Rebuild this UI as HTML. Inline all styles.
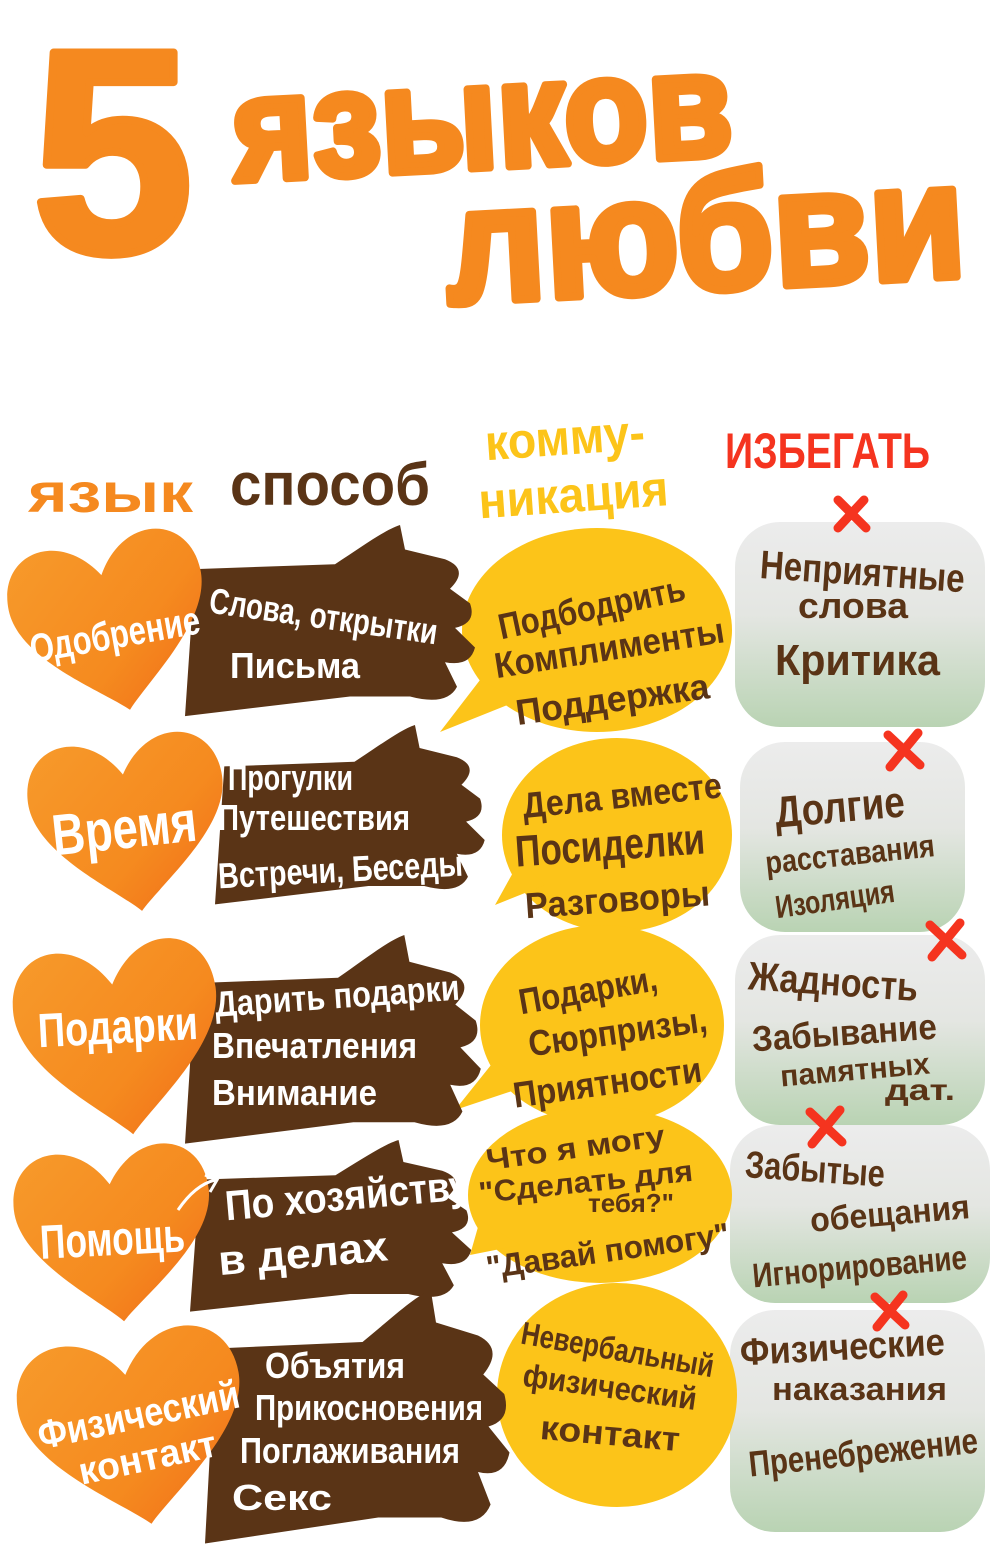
<!DOCTYPE html>
<html><head><meta charset="utf-8"><style>
html,body{margin:0;padding:0;background:#fff;}
svg{display:block;}
text{font-family:"Liberation Sans Narrow","Liberation Sans",sans-serif;font-weight:bold;}
</style></head><body>
<svg width="1000" height="1548" viewBox="0 0 1000 1548" xmlns="http://www.w3.org/2000/svg">
<defs>
<linearGradient id="gr" x1="0" y1="0" x2="0" y2="1">
<stop offset="0" stop-color="#ececec"/><stop offset="0.45" stop-color="#e4e6e2"/><stop offset="1" stop-color="#b9d3b3"/></linearGradient>
<linearGradient id="ht" x1="0" y1="0" x2="1" y2="1">
<stop offset="0" stop-color="#f79a2b"/><stop offset="0.6" stop-color="#f58a1f"/><stop offset="1" stop-color="#f06a18"/></linearGradient>
<path id="heart" d="M0,0.85 C-0.25,0.6 -1,0.15 -1,-0.35 C-1,-0.9 -0.35,-1.05 0,-0.5 C0.35,-1.05 1,-0.9 1,-0.35 C1,0.15 0.25,0.6 0,0.85Z"/>
<path id="hand" d="M10,45 L150,40 C180,20 200,5 215,0 L220,25 L260,35 Q285,45 265,65 L285,80 Q292,100 270,105 L290,125 Q285,145 260,140 L272,165 Q262,185 225,175 L165,175 L0,195 Z"/>
</defs>

<!-- Title -->
<g fill="#f5891f" stroke="#f5891f" stroke-width="8" stroke-linejoin="round">
<text x="32" y="252" font-size="290" style="font-family:'Liberation Sans',sans-serif" font-weight="900">5</text>
<text x="232" y="168" font-size="150" textLength="500" lengthAdjust="spacingAndGlyphs" transform="rotate(-3 480 120)">языков</text>
<text x="445" y="290" font-size="165" textLength="520" lengthAdjust="spacingAndGlyphs" transform="rotate(-3 700 230)">любви</text>
</g>

<!-- Headers -->
<text x="28" y="512" font-size="56" fill="#f5891f" textLength="165" lengthAdjust="spacingAndGlyphs">язык</text>
<text x="230" y="505" font-size="60" fill="#5a3416" textLength="200" lengthAdjust="spacingAndGlyphs">способ</text>
<text x="485" y="455" font-size="50" fill="#fcc419" textLength="160" lengthAdjust="spacingAndGlyphs" transform="rotate(-4 560 440)">комму-</text>
<text x="478" y="512" font-size="50" fill="#fcc419" textLength="190" lengthAdjust="spacingAndGlyphs" transform="rotate(-4 570 490)">никация</text>
<text x="725" y="468" font-size="50" fill="#f5341f" textLength="205" lengthAdjust="spacingAndGlyphs">ИЗБЕГАТЬ</text>

<!-- Grey clouds -->
<g fill="url(#gr)">
<rect x="735" y="522" width="250" height="205" rx="45"/>
<rect x="740" y="742" width="225" height="190" rx="45"/>
<rect x="735" y="935" width="250" height="190" rx="45"/>
<rect x="730" y="1125" width="260" height="178" rx="45"/>
<rect x="730" y="1310" width="255" height="222" rx="45"/>
</g>
<g stroke="#f5341f" stroke-width="9" stroke-linecap="round">
<path d="M838,500 L866,528 M864,500 L838,528"/>
<path d="M888,735 L920,765 M918,733 L890,767"/>
<path d="M930,925 L962,955 M960,923 L932,957"/>
<path d="M810,1112 L842,1142 M840,1110 L812,1144"/>
<path d="M875,1297 L905,1325 M903,1295 L877,1327"/>
</g>

<!-- Yellow bubbles -->
<g fill="#fcc419">
<ellipse cx="597" cy="630" rx="135" ry="102"/><path d="M480,680 L440,732 L520,700Z"/>
<ellipse cx="617" cy="835" rx="115" ry="97"/><path d="M520,860 L495,905 L545,885Z"/>
<ellipse cx="602" cy="1025" rx="122" ry="100"/><path d="M495,1060 L455,1110 L530,1085Z"/>
<ellipse cx="600" cy="1195" rx="132" ry="88"/><path d="M480,1220 L470,1255 L520,1245Z"/>
<ellipse cx="617" cy="1395" rx="120" ry="112"/>
</g>

<!-- Brown hands -->
<g fill="#5a3416">
<use href="#hand" transform="translate(185,525) scale(1,0.98)"/>
<use href="#hand" transform="translate(215,725) scale(0.93,0.92)"/>
<use href="#hand" transform="translate(185,935) scale(1.02,1.07)"/>
<use href="#hand" transform="translate(190,1140) scale(0.97,0.88)"/>
<use href="#hand" transform="translate(205,1290) scale(1.05,1.3)"/>
</g>

<!-- Hearts -->
<g fill="url(#ht)">
<use href="#heart" transform="translate(112,625) rotate(-12) scale(98,102)"/>
<use href="#heart" transform="translate(130,825) rotate(-8) scale(98,102)"/>
<use href="#heart" transform="translate(120,1040) rotate(-8) scale(102,112)"/>
<use href="#heart" transform="translate(115,1235) rotate(-6) scale(98,102)"/>
<use href="#heart" transform="translate(135,1430) rotate(-10) scale(112,112)"/>
</g>

<!-- Heart labels -->
<g fill="#fff">
<text x="28" y="648" font-size="40" textLength="172" lengthAdjust="spacingAndGlyphs" transform="rotate(-10 115 630)">Одобрение</text>
<text x="52" y="848" font-size="58" textLength="145" lengthAdjust="spacingAndGlyphs" transform="rotate(-6 125 830)">Время</text>
<text x="38" y="1043" font-size="48" textLength="160" lengthAdjust="spacingAndGlyphs" transform="rotate(-3 120 1030)">Подарки</text>
<text x="40" y="1255" font-size="48" textLength="145" lengthAdjust="spacingAndGlyphs" transform="rotate(-3 115 1240)">Помощь</text>
<text x="35" y="1428" font-size="40" textLength="205" lengthAdjust="spacingAndGlyphs" transform="rotate(-12 140 1410)">Физический</text>
<text x="78" y="1470" font-size="38" textLength="140" lengthAdjust="spacingAndGlyphs" transform="rotate(-12 150 1460)">контакт</text>
</g>

<!-- Hand labels -->
<g fill="#fff" font-size="36">
<text x="208" y="628" textLength="230" lengthAdjust="spacingAndGlyphs" transform="rotate(8 320 620)">Слова, открытки</text>
<text x="230" y="678" textLength="130" lengthAdjust="spacingAndGlyphs">Письма</text>
<text x="228" y="790" textLength="125" lengthAdjust="spacingAndGlyphs">Прогулки</text>
<text x="218" y="830" textLength="192" lengthAdjust="spacingAndGlyphs">Путешествия</text>
<text x="218" y="882" textLength="245" lengthAdjust="spacingAndGlyphs" transform="rotate(-3 340 870)">Встречи, Беседы</text>
<text x="215" y="1008" textLength="245" lengthAdjust="spacingAndGlyphs" transform="rotate(-4 340 1000)">Дарить подарки</text>
<text x="212" y="1058" textLength="205" lengthAdjust="spacingAndGlyphs">Впечатления</text>
<text x="212" y="1105" textLength="165" lengthAdjust="spacingAndGlyphs">Внимание</text>
<text x="225" y="1210" font-size="42" textLength="245" lengthAdjust="spacingAndGlyphs" transform="rotate(-5 345 1200)">По хозяйству</text>
<text x="218" y="1268" font-size="42" textLength="170" lengthAdjust="spacingAndGlyphs" transform="rotate(-5 300 1255)">в делах</text>
<text x="265" y="1378" textLength="140" lengthAdjust="spacingAndGlyphs">Объятия</text>
<text x="255" y="1420" textLength="228" lengthAdjust="spacingAndGlyphs">Прикосновения</text>
<text x="240" y="1463" textLength="220" lengthAdjust="spacingAndGlyphs">Поглаживания</text>
<text x="232" y="1510" textLength="100" lengthAdjust="spacingAndGlyphs">Секс</text>
</g>

<!-- Bubble labels -->
<g fill="#5a3416" font-size="36">
<text x="495" y="620" textLength="190" lengthAdjust="spacingAndGlyphs" transform="rotate(-12 590 600)">Подбодрить</text>
<text x="492" y="660" textLength="232" lengthAdjust="spacingAndGlyphs" transform="rotate(-9 610 640)">Комплименты</text>
<text x="515" y="712" textLength="195" lengthAdjust="spacingAndGlyphs" transform="rotate(-8 610 700)">Поддержка</text>
<text x="522" y="808" textLength="200" lengthAdjust="spacingAndGlyphs" transform="rotate(-6 620 795)">Дела вместе</text>
<text x="515" y="860" font-size="44" textLength="190" lengthAdjust="spacingAndGlyphs" transform="rotate(-4 610 845)">Посиделки</text>
<text x="525" y="912" textLength="185" lengthAdjust="spacingAndGlyphs" transform="rotate(-4 615 900)">Разговоры</text>
<text x="518" y="1002" textLength="140" lengthAdjust="spacingAndGlyphs" transform="rotate(-10 590 990)">Подарки,</text>
<text x="528" y="1045" textLength="180" lengthAdjust="spacingAndGlyphs" transform="rotate(-8 610 1035)">Сюрпризы,</text>
<text x="512" y="1095" textLength="190" lengthAdjust="spacingAndGlyphs" transform="rotate(-8 605 1080)">Приятности</text>
<text x="485" y="1158" font-size="30" textLength="180" lengthAdjust="spacingAndGlyphs" transform="rotate(-8 575 1145)">Что я могу</text>
<text x="478" y="1192" font-size="30" textLength="215" lengthAdjust="spacingAndGlyphs" transform="rotate(-6 585 1180)">"Сделать для</text>
<text x="588" y="1212" font-size="26">тебя?"</text>
<text x="485" y="1262" font-size="32" textLength="245" lengthAdjust="spacingAndGlyphs" transform="rotate(-8 605 1250)">"Давай помогу"</text>
<text x="520" y="1360" font-size="32" textLength="195" lengthAdjust="spacingAndGlyphs" transform="rotate(10 615 1350)">Невербальный</text>
<text x="522" y="1398" font-size="32" textLength="175" lengthAdjust="spacingAndGlyphs" transform="rotate(8 610 1390)">физический</text>
<text x="540" y="1445" font-size="34" textLength="140" lengthAdjust="spacingAndGlyphs" transform="rotate(5 610 1435)">контакт</text>
</g>

<!-- Grey labels -->
<g fill="#5a3416" font-size="36">
<text x="760" y="585" font-size="40" textLength="205" lengthAdjust="spacingAndGlyphs" transform="rotate(4 860 570)">Неприятные</text>
<text x="798" y="618" textLength="110" lengthAdjust="spacingAndGlyphs">слова</text>
<text x="775" y="675" font-size="44" textLength="165" lengthAdjust="spacingAndGlyphs">Критика</text>
<text x="775" y="822" font-size="44" textLength="130" lengthAdjust="spacingAndGlyphs" transform="rotate(-5 840 810)">Долгие</text>
<text x="765" y="865" font-size="32" textLength="170" lengthAdjust="spacingAndGlyphs" transform="rotate(-6 850 855)">расставания</text>
<text x="775" y="910" font-size="32" textLength="120" lengthAdjust="spacingAndGlyphs" transform="rotate(-8 835 900)">Изоляция</text>
<text x="748" y="995" font-size="40" textLength="170" lengthAdjust="spacingAndGlyphs" transform="rotate(4 830 985)">Жадность</text>
<text x="752" y="1045" font-size="36" textLength="185" lengthAdjust="spacingAndGlyphs" transform="rotate(-4 845 1035)">Забывание</text>
<text x="780" y="1080" font-size="30" textLength="150" lengthAdjust="spacingAndGlyphs" transform="rotate(-5 855 1070)">памятных</text>
<text x="885" y="1100" font-size="30" textLength="70" lengthAdjust="spacingAndGlyphs">дат.</text>
<text x="745" y="1182" font-size="38" textLength="140" lengthAdjust="spacingAndGlyphs" transform="rotate(4 815 1170)">Забытые</text>
<text x="810" y="1225" font-size="34" textLength="160" lengthAdjust="spacingAndGlyphs" transform="rotate(-5 890 1215)">обещания</text>
<text x="752" y="1278" font-size="34" textLength="215" lengthAdjust="spacingAndGlyphs" transform="rotate(-5 860 1265)">Игнорирование</text>
<text x="740" y="1360" font-size="38" textLength="205" lengthAdjust="spacingAndGlyphs" transform="rotate(-3 840 1350)">Физические</text>
<text x="772" y="1400" font-size="32" textLength="175" lengthAdjust="spacingAndGlyphs">наказания</text>
<text x="748" y="1465" font-size="36" textLength="230" lengthAdjust="spacingAndGlyphs" transform="rotate(-6 860 1450)">Пренебрежение</text>
</g>
<path d="M178,1210 Q195,1185 215,1180 M205,1175 L217,1180 L210,1192" stroke="#fff" stroke-width="3" fill="none"/>
</svg>
</body></html>
